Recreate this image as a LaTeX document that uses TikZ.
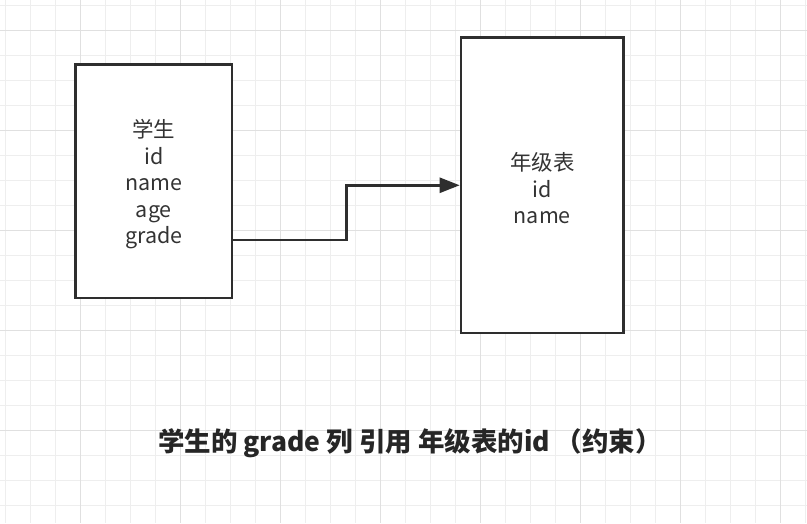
\documentclass[tikz,border=0pt]{standalone}
\usepackage{fontspec}
\setmainfont{Noto Sans CJK SC}
\usetikzlibrary{arrows.meta}

\definecolor{gridminor}{HTML}{EEEEEE}
\definecolor{gridmajor}{HTML}{E0E0E0}
\definecolor{boxline}{HTML}{2E2E2E}
\definecolor{boxtext}{HTML}{333333}

\begin{document}
\begin{tikzpicture}[
    x=1pt, y=-1pt,
    table/.style={rectangle, draw=boxline, line width=2.5pt, fill=white},
    fields/.style={align=center, text=boxtext, font=\fontsize{21.5}{26.5}\selectfont},
    link/.style={-{Triangle[length=20pt, width=15pt]}, draw=boxline, line width=2.5pt},
    caption/.style={text=black!85, font=\fontsize{26.5}{30}\selectfont\bfseries}
]

% Background grid
\fill[white] (0,0) rectangle (807,523);
\foreach \x in {5.5,30.5,...,806} \draw[gridminor, line width=1pt] (\x,0) -- (\x,523);
\foreach \y in {5.5,30.5,...,521} \draw[gridminor, line width=1pt] (0,\y) -- (807,\y);
\foreach \x in {80.5,180.5,...,781} \draw[gridmajor, line width=1pt] (\x,0) -- (\x,523);
\foreach \y in {30.5,130.5,...,431} \draw[gridmajor, line width=1pt] (0,\y) -- (807,\y);

% Tables
\node[table, minimum width=157pt, minimum height=234pt] (student) at (153.5,181) {};
\node[fields] (studentfields) at ([yshift=-3pt]student.center) {学生\\id\\name\\age\\grade};
\node[table, minimum width=163pt, minimum height=296pt] (grades) at (542.5,185) {};
\node[fields] (gradesfields) at ([yshift=-3pt]grades.center) {年级表\\id\\name};

% Reference
\draw[link] ([yshift=-59pt]student.east) -- ++(113,0) |- (grades.west);

% Caption
\node[caption] (note) at (410,443) {学生的 grade 列 引用 年级表的id （约束）};

\end{tikzpicture}
\end{document}
